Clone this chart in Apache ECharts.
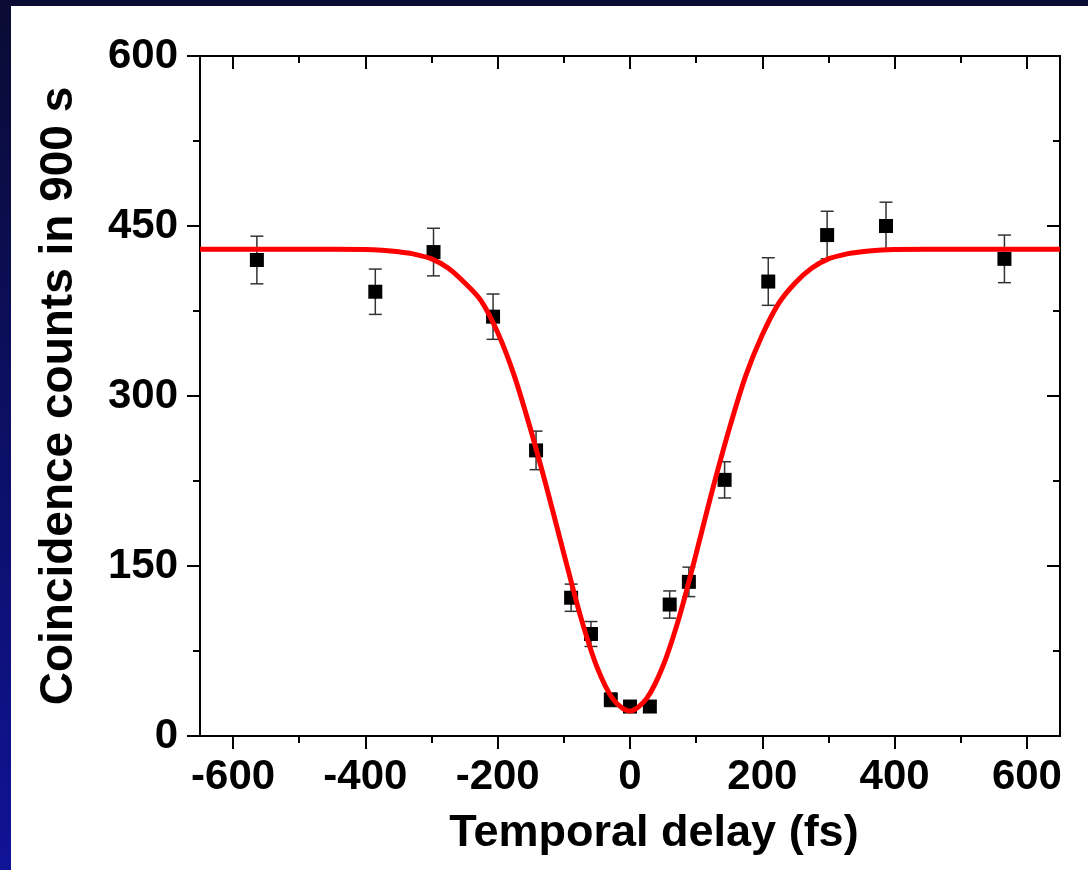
<!DOCTYPE html>
<html lang="en">
<head>
<meta charset="UTF-8">
<title>HOM dip</title>
<script src="https://cdn.jsdelivr.net/npm/echarts@6.0.0/dist/echarts.min.js"></script>
<style>
    html, body { margin: 0; padding: 0; }
    body {
        width: 1088px; height: 870px; overflow: hidden; position: relative;
        background: linear-gradient(to bottom, #090b33, #0f1396);
    }
    #chart {
        position: absolute; left: 11px; top: 6px;
        width: 1077px; height: 864px; background: #fff;
    }
</style>
</head>
<body>
<div id="chart"></div>
<script>
// measured points
const delay  = [-564, -385, -297, -207, -142, -89, -59, -29, 0, 30, 60, 89, 143, 209, 298, 387, 566];
const counts = [420, 392, 427, 370, 252, 122, 90, 32, 26, 26, 116, 136, 226, 401, 442, 450, 421];
const errs   = [21, 20, 21, 20, 17, 12, 11, 6, 5, 5, 12, 13, 16, 21, 21, 21, 21];

// fitted curve, every 25 fs through the dip
const fitDelay  = [-650, -450, -400, -375, -350, -325, -300, -275, -250, -225, -200, -175, -150, -125, -100, -75,
                   -50, -25, 0, 25, 50, 75, 100, 125, 150, 175, 200, 225, 250, 275, 300, 325, 350, 375, 400, 450, 650];
const fitCounts = [429.5, 429.5, 429.2, 428.5, 427.2, 425, 421, 413, 400, 384, 356, 318, 270, 217, 161, 106,
                   61, 32, 22, 33, 62, 106, 161, 218, 271, 318, 354, 382, 400, 413, 421, 425, 427.2, 428.5, 429.2, 429.5, 429.5];

const xMajor = [-600, -400, -200, 0, 200, 400, 600];
const xMinor = [-500, -300, -100, 100, 300, 500];
const yMajor = [0, 150, 300, 450, 600];
const yMinor = [75, 225, 375, 525];

const FONT = '"Liberation Sans", Arial, sans-serif';

function renderErrorBar(params, api) {
    var x = api.value(0), y = api.value(1), e = api.value(2);
    var top = api.coord([x, y + e]);
    var bot = api.coord([x, y - e]);
    var w = 6.5;
    var style = { stroke: '#333', lineWidth: 1.5 };
    return {
        type: 'group',
        children: [
            { type: 'line', shape: { x1: top[0], y1: top[1], x2: bot[0], y2: bot[1] }, style: style },
            { type: 'line', shape: { x1: top[0] - w, y1: top[1], x2: top[0] + w, y2: top[1] }, style: style },
            { type: 'line', shape: { x1: bot[0] - w, y1: bot[1], x2: bot[0] + w, y2: bot[1] }, style: style }
        ]
    };
}

function xAxisDef(grid, pos, ticks, len, inside, main) {
    return {
        type: 'value', gridIndex: grid, position: pos, min: -650, max: 650,
        axisLine: { show: true, onZero: false, lineStyle: { color: '#000', width: 2 } },
        axisTick: { show: true, customValues: ticks, length: len, inside: inside, lineStyle: { color: '#000', width: 2 } },
        axisLabel: main ? {
            show: true, customValues: xMajor, margin: 20, color: '#000',
            fontFamily: FONT, fontWeight: 'bold', fontSize: 42
        } : { show: false },
        splitLine: { show: false },
        name: main ? 'Temporal delay (fs)' : '',
        nameLocation: 'middle', nameGap: 75,
        nameTextStyle: { color: '#000', fontFamily: FONT, fontWeight: 'bold', fontSize: 45, padding: [0, 0, 0, 48] }
    };
}

function yAxisDef(grid, pos, ticks, len, inside, main) {
    return {
        type: 'value', gridIndex: grid, position: pos, min: 0, max: 600, interval: 150,
        axisLine: { show: true, onZero: false, lineStyle: { color: '#000', width: 2 } },
        axisTick: { show: true, customValues: ticks, length: len, inside: inside, lineStyle: { color: '#000', width: 2 } },
        axisLabel: main ? {
            show: true, customValues: yMajor, margin: 22, color: '#000',
            fontFamily: FONT, fontWeight: 'bold', fontSize: 42
        } : { show: false },
        splitLine: { show: false },
        name: main ? 'Coincidence counts in 900 s' : '',
        nameLocation: 'middle', nameGap: 118,
        nameTextStyle: { color: '#000', fontFamily: FONT, fontWeight: 'bold', fontSize: 46 }
    };
}

var chart = echarts.init(document.getElementById('chart'));

var gridBox = { left: 189, right: 28, top: 50, bottom: 134 };

var option = {
    animation: false,
    backgroundColor: '#fff',
    grid: [
        Object.assign({}, gridBox),
        Object.assign({}, gridBox)
    ],
    xAxis: [
        xAxisDef(0, 'bottom', xMajor, 13, false, true),
        xAxisDef(0, 'top', xMajor, 13, true, false),
        xAxisDef(1, 'bottom', xMinor, 7, false, false),
        xAxisDef(1, 'top', xMinor, 7, true, false)
    ],
    yAxis: [
        yAxisDef(0, 'left', yMajor, 13, false, true),
        yAxisDef(0, 'right', yMajor, 13, true, false),
        yAxisDef(1, 'left', yMinor, 7, false, false),
        yAxisDef(1, 'right', yMinor, 7, true, false)
    ],
    series: [
        {
            type: 'custom',
            xAxisIndex: 0, yAxisIndex: 0,
            renderItem: renderErrorBar,
            encode: { x: 0, y: 1 },
            data: delay.map((d, i) => [d, counts[i], errs[i]]),
            z: 2
        },
        {
            type: 'scatter',
            xAxisIndex: 0, yAxisIndex: 0,
            symbol: 'rect', symbolSize: 14,
            itemStyle: { color: '#000', opacity: 1 },
            data: delay.map((d, i) => [d, counts[i]]),
            z: 3
        },
        {
            type: 'line',
            xAxisIndex: 0, yAxisIndex: 0,
            showSymbol: false,
            smooth: 0.3,
            lineStyle: { color: '#ff0000', width: 5 },
            data: fitDelay.map((d, i) => [d, fitCounts[i]]),
            z: 4
        }
    ]
};
chart.setOption(option);
</script>
</body>
</html>
